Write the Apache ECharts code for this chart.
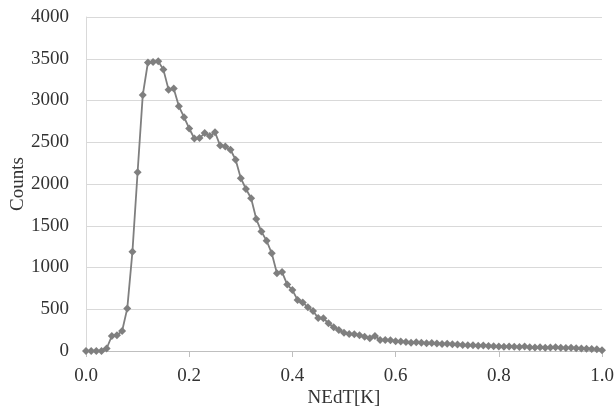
<!DOCTYPE html>
<html>
<head>
<meta charset="utf-8">
<script src="https://cdn.jsdelivr.net/npm/echarts@6/dist/echarts.min.js"></script>
<style>
  html, body { margin: 0; padding: 0; background: #ffffff; }
  #chart { width: 614px; height: 410px; }
</style>
</head>
<body>
<div id="chart"></div>
<script>
// NEdT bins [K]
const nedt = [
  0.00, 0.01, 0.02, 0.03, 0.04, 0.05, 0.06, 0.07, 0.08, 0.09,
  0.10, 0.11, 0.12, 0.13, 0.14, 0.15, 0.16, 0.17, 0.18, 0.19,
  0.20, 0.21, 0.22, 0.23, 0.24, 0.25, 0.26, 0.27, 0.28, 0.29,
  0.30, 0.31, 0.32, 0.33, 0.34, 0.35, 0.36, 0.37, 0.38, 0.39,
  0.40, 0.41, 0.42, 0.43, 0.44, 0.45, 0.46, 0.47, 0.48, 0.49,
  0.50, 0.51, 0.52, 0.53, 0.54, 0.55, 0.56, 0.57, 0.58, 0.59,
  0.60, 0.61, 0.62, 0.63, 0.64, 0.65, 0.66, 0.67, 0.68, 0.69,
  0.70, 0.71, 0.72, 0.73, 0.74, 0.75, 0.76, 0.77, 0.78, 0.79,
  0.80, 0.81, 0.82, 0.83, 0.84, 0.85, 0.86, 0.87, 0.88, 0.89,
  0.90, 0.91, 0.92, 0.93, 0.94, 0.95, 0.96, 0.97, 0.98, 0.99,
  1.00
];

// Pixel counts per bin
const counts = [
  0, 0, 0, 0, 30, 180, 190, 240, 510, 1190,
  2140, 3065, 3455, 3460, 3470, 3370, 3130, 3145, 2930, 2800,
  2665, 2545, 2550, 2610, 2575, 2620, 2460, 2450, 2410, 2290,
  2070, 1940, 1830, 1580, 1430, 1320, 1170, 930, 945, 795,
  730, 612, 580, 525, 480, 395, 392, 332, 284, 252,
  220, 204, 200, 188, 172, 152, 180, 132, 132, 128,
  118, 115, 108, 100, 105, 98, 92, 95, 90, 85,
  88, 80, 78, 72, 70, 68, 62, 65, 60, 58,
  55, 52, 55, 50, 48, 55, 45, 42, 44, 40,
  42, 45, 38, 36, 38, 34, 30, 28, 24, 20,
  8
];

const xTicks = { min: 0, max: 1, step: 0.2 };
const yTicks = { min: 0, max: 4000, step: 500 };

const points = nedt.map((x, i) => [x, counts[i]]);

const font = '"Liberation Serif", "DejaVu Serif", serif';

const chart = echarts.init(document.getElementById('chart'), null, { renderer: 'canvas' });
chart.setOption({
  animation: false,
  backgroundColor: '#ffffff',
  grid: { left: 86, right: 12, top: 17, bottom: 59, containLabel: false, outerBoundsMode: 'none' },
  xAxis: {
    type: 'value',
    min: xTicks.min,
    max: xTicks.max,
    interval: xTicks.step,
    name: 'NEdT[K]',
    nameLocation: 'middle',
    nameGap: 38,
    nameMoveOverlap: false,
    nameTextStyle: { fontFamily: font, fontSize: 19, color: '#333333' },
    axisLine: { show: true, lineStyle: { color: '#bfbfbf', width: 1 } },
    axisTick: { show: true, length: 6, lineStyle: { color: '#bfbfbf' } },
    axisLabel: {
      fontFamily: font, fontSize: 19, color: '#333333', margin: 16,
      formatter: v => v.toFixed(1)
    },
    splitLine: { show: false }
  },
  yAxis: {
    type: 'value',
    min: yTicks.min,
    max: yTicks.max,
    interval: yTicks.step,
    name: 'Counts',
    nameLocation: 'middle',
    nameGap: 58,
    nameMoveOverlap: false,
    nameTextStyle: { fontFamily: font, fontSize: 19, color: '#333333' },
    axisLine: { show: true, lineStyle: { color: '#d9d9d9', width: 1 } },
    axisTick: { show: false },
    axisLabel: {
      fontFamily: font, fontSize: 19, color: '#333333', margin: 17,
      formatter: v => String(v)
    },
    splitLine: { show: true, lineStyle: { color: '#d9d9d9', width: 1 } }
  },
  series: [{
    type: 'line',
    data: points,
    symbol: 'diamond',
    symbolSize: 8,
    showAllSymbol: true,
    lineStyle: { color: '#7f7f7f', width: 1.8 },
    itemStyle: { color: '#7f7f7f', borderWidth: 0 }
  }]
});
</script>
</body>
</html>
